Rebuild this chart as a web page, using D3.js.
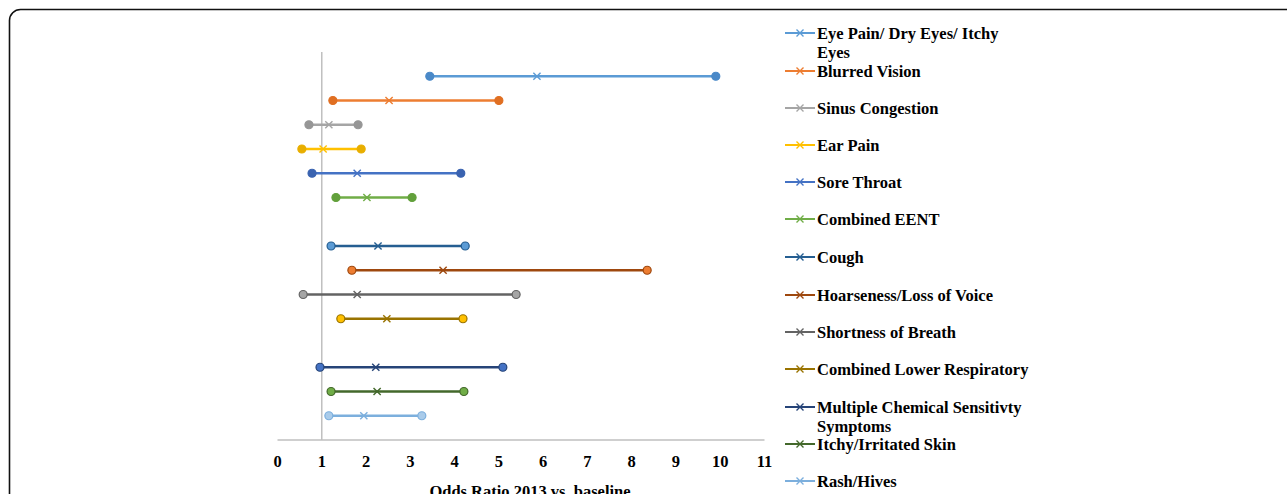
<!DOCTYPE html>
<html>
<head>
<meta charset="utf-8">
<script src="https://d3js.org/d3.v7.min.js"></script>
<style>
  body { margin: 0; background: #fff; }
  svg text { font-family: "Liberation Serif", "Times New Roman", serif; font-weight: bold; fill: #000; }
</style>
</head>
<body>
<svg id="chart" width="1287" height="494"></svg>
<script>
// data
const symptoms = [
  "Eye Pain/ Dry Eyes/ Itchy Eyes", "Blurred Vision", "Sinus Congestion", "Ear Pain",
  "Sore Throat", "Combined EENT", "Cough", "Hoarseness/Loss of Voice",
  "Shortness of Breath", "Combined Lower Respiratory", "Multiple Chemical Sensitivty Symptoms",
  "Itchy/Irritated Skin", "Rash/Hives"
];
// row position on the hidden y axis (gaps after EENT and Lower Respiratory)
const rowPos = [15, 14, 13, 12, 11, 10, 8, 7, 6, 5, 3, 2, 1];
const lower = [3.44, 1.25, 0.71, 0.55, 0.78, 1.32, 1.21, 1.68, 0.58, 1.43, 0.96, 1.21, 1.16];
const oddsRatio = [5.86, 2.52, 1.16, 1.03, 1.80, 2.02, 2.27, 3.74, 1.80, 2.47, 2.22, 2.25, 1.95];
const upper = [9.90, 5.00, 1.82, 1.89, 4.14, 3.04, 4.24, 8.35, 5.39, 4.19, 5.09, 4.21, 3.26];
const xTicks = [0, 1, 2, 3, 4, 5, 6, 7, 8, 9, 10, 11];

const lineColors = ["#5B9BD5", "#ED7D31", "#A5A5A5", "#FFC000", "#4472C4", "#70AD47",
  "#255E91", "#9E480E", "#636363", "#997300", "#264478", "#43682B", "#7CAFDD"];
const dotFill = ["#4A89C8", "#E06F22", "#969696", "#E8AE00", "#3A63B0", "#62A03B",
  "#5B9BD5", "#ED7D31", "#A5A5A5", "#FFC000", "#4472C4", "#70AD47", "#A9CBEA"];

const svg = d3.select("#chart");

// outer frame
svg.append("rect")
  .attr("x", 9.5).attr("y", 9.5)
  .attr("width", 1300).attr("height", 520)
  .attr("rx", 11)
  .attr("fill", "none").attr("stroke", "#111").attr("stroke-width", 1.6);

const x = d3.scaleLinear().domain([0, 11]).range([277.5, 764.5]);
const y = d3.scaleLinear().domain([0, 16]).range([440, 52]);

// reference line at OR = 1
svg.append("line")
  .attr("x1", x(1)).attr("x2", x(1))
  .attr("y1", y(16)).attr("y2", y(0))
  .attr("stroke", "#BFBFBF").attr("stroke-width", 1.5);

// x axis
svg.append("line")
  .attr("x1", x(0)).attr("x2", x(11))
  .attr("y1", y(0)).attr("y2", y(0))
  .attr("stroke", "#BFBFBF").attr("stroke-width", 1.5);

svg.append("g")
  .selectAll("text")
  .data(xTicks)
  .enter().append("text")
  .attr("x", d => x(d))
  .attr("y", 467)
  .attr("text-anchor", "middle")
  .attr("font-size", 16.5)
  .text(d => d);

svg.append("text")
  .attr("x", 530).attr("y", 497)
  .attr("text-anchor", "middle")
  .attr("font-size", 16.5)
  .text("Odds Ratio 2013 vs. baseline");

// marker "x"
function cross(g, cx, cy, s, color) {
  g.append("path")
    .attr("d", `M${cx - s},${cy - s}L${cx + s},${cy + s}M${cx - s},${cy + s}L${cx + s},${cy - s}`)
    .attr("stroke", color).attr("stroke-width", 1.4).attr("fill", "none");
}

// interval rows
const rows = svg.append("g");
symptoms.forEach((name, i) => {
  const g = rows.append("g");
  const cy = y(rowPos[i]);
  g.append("line")
    .attr("x1", x(lower[i])).attr("x2", x(upper[i]))
    .attr("y1", cy).attr("y2", cy)
    .attr("stroke", lineColors[i]).attr("stroke-width", 2.4);
  [lower[i], upper[i]].forEach(v => {
    g.append("circle")
      .attr("cx", x(v)).attr("cy", cy).attr("r", 4)
      .attr("fill", dotFill[i])
      .attr("stroke", i < 6 ? dotFill[i] : lineColors[i])
      .attr("stroke-width", 1.2);
  });
  cross(g, x(oddsRatio[i]), cy, 3.6, lineColors[i]);
});

// legend
const legendY = [33, 71, 108, 145, 182, 219, 257, 295, 332, 369, 407, 444, 481];
const legend = svg.append("g");
symptoms.forEach((name, i) => {
  const ly = legendY[i];
  legend.append("line")
    .attr("x1", 785).attr("x2", 815)
    .attr("y1", ly).attr("y2", ly)
    .attr("stroke", lineColors[i]).attr("stroke-width", 2);
  cross(legend, 800, ly, 3.5, lineColors[i]);
  const t = legend.append("text")
    .attr("x", 817).attr("y", ly + 6)
    .attr("font-size", 16.5);
  let lines = [name];
  if (i === 0) lines = ["Eye Pain/ Dry Eyes/ Itchy", "Eyes"];
  if (i === 10) lines = ["Multiple Chemical Sensitivty", "Symptoms"];
  lines.forEach((s, k) => {
    t.append("tspan").attr("x", 817).attr("dy", k === 0 ? 0 : 19).text(s);
  });
});
</script>
</body>
</html>
